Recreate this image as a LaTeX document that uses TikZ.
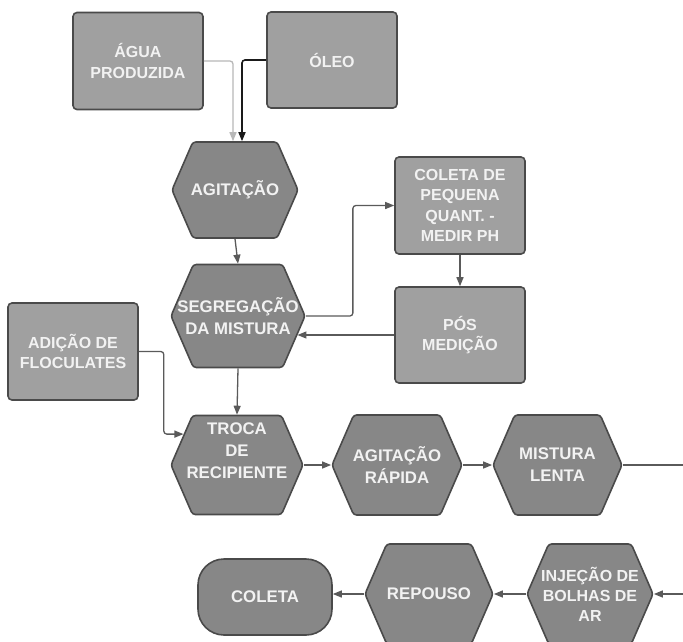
\documentclass[tikz,border=0pt]{standalone}
\usepackage{fontspec}
\setmainfont{Liberation Sans}
\usetikzlibrary{shapes.symbols,arrows.meta}
\definecolor{boxfill}{HTML}{A0A0A0}
\definecolor{hexfill}{HTML}{878787}
\definecolor{edgec}{HTML}{4A4A4A}
\definecolor{conn}{HTML}{5A5A5A}
\definecolor{lightc}{HTML}{B8B8B8}
\definecolor{darkc}{HTML}{1A1A1A}
\definecolor{txt}{HTML}{F2F2F2}
\begin{document}
\begin{tikzpicture}[x=1pt,y=-1pt,
 lbl/.style={font=\fontsize{16}{20.5}\selectfont\bfseries, text=txt, align=center},
 hlbl/.style={font=\fontsize{16.8}{22}\selectfont\bfseries, text=txt, align=center},
 rbox/.style={lbl, draw=edgec, line width=1.6pt, fill=boxfill, rounded corners=4pt, minimum width=130pt, minimum height=97pt, inner sep=2pt},
 hexa/.style={shape=signal, signal to=west and east, signal pointer angle=133, draw=edgec, line width=1.6pt, fill=hexfill, rounded corners=3pt, inner sep=0pt},
 endbox/.style={hlbl, draw=edgec, line width=1.6pt, fill=hexfill, rounded corners=26pt, minimum width=134pt, minimum height=76pt},
 link/.style={draw=conn, line width=1.3pt, -{Triangle[length=9pt,width=7pt]}, rounded corners=3pt},
 plain/.style={draw=conn, line width=1.3pt},
]
\fill[white] (0,0) rectangle (683,641);
\useasboundingbox (0,0) rectangle (683,641);

\node[rbox] (agua) at (138,61) {ÁGUA\\PRODUZIDA};
\node[rbox, minimum height=96pt] (oleo) at (332,60) {ÓLEO};
\node[hexa, minimum width=126pt, minimum height=96pt, label={[hlbl]center:AGITAÇÃO}] (agit) at (235,190) {};
\node[hexa, minimum width=134pt, minimum height=103pt, label={[hlbl]center:{SEGREGAÇÃO\\DA MISTURA}}] (segr) at (238,316) {};
\node[rbox] (col1) at (460,205.5) {COLETA DE\\PEQUENA\\QUANT. -\\MEDIR PH};
\node[rbox, minimum height=96pt] (pos) at (460,335) {PÓS\\MEDIÇÃO};
\node[rbox] (adic) at (73,351.5) {ADIÇÃO DE\\FLOCULATES};
\node[hexa, minimum width=132pt, minimum height=99pt, label={[hlbl, yshift=14pt]center:{TROCA\\DE\\RECIPIENTE}}] (troca) at (237,465) {};
\node[hexa, minimum width=130pt, minimum height=100pt, label={[hlbl]center:{AGITAÇÃO\\RÁPIDA}}] (rap) at (397,465) {};
\node[hexa, minimum width=129pt, minimum height=100pt, label={[hlbl]center:{MISTURA\\LENTA}}] (lenta) at (557.5,465) {};
\node[hexa, minimum width=126pt, minimum height=100pt, label={[hlbl, font=\fontsize{16}{20}\selectfont\bfseries]center:{INJEÇÃO DE\\BOLHAS DE\\AR}}] (inj) at (590,594) {};
\node[hexa, minimum width=128pt, minimum height=100pt, label={[hlbl]center:REPOUSO}] (rep) at (429,594) {};
\node[endbox] (col) at (265,597) {COLETA};

\coordinate (rtop) at (683,465);
\coordinate (rbot) at (683,594);

\draw[link, draw=lightc, -{Triangle[length=9pt,width=7pt,fill=lightc]}] (agua.east) -| ([xshift=-2pt]agit.north);
\draw[link, draw=darkc, line width=1.6pt] (oleo.west) -| ([xshift=7pt]agit.north);
\draw[link] (agit.south) -- (segr.north);
\draw[link] (segr.east) -- ++(47,0) |- (col1.west);
\draw[link] (col1.south) -- (pos.north);
\draw[link] (pos.west) -- (pos.west -| segr.-18);
\draw[link] (segr.south) -- (troca.north);
\draw[link] (adic.east) -- ++(25,0) |- (troca.150);
\draw[link] (troca.east) -- (rap.west);
\draw[link] (rap.east) -- (lenta.west);
\draw[plain] (lenta.east) -- (rtop);
\draw[link] (rbot) -- (inj.east);
\draw[link] (inj.west) -- (rep.east);
\draw[link] (rep.west) -- (col.east |- rep.west);
\end{tikzpicture}
\end{document}
